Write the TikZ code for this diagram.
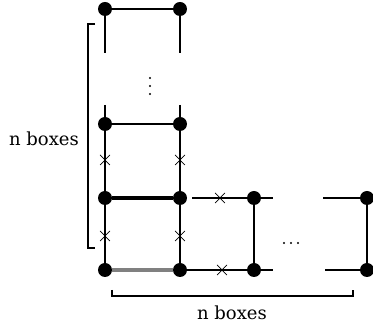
\documentclass[tikz,border=0pt]{standalone}
\usepackage{fontspec}
\setmainfont{DejaVu Serif}
\begin{document}
\begin{tikzpicture}[x=1pt,y=-1pt,
  dot/.style={circle,fill=black,inner sep=0pt,minimum size=14pt},
  edge/.style={line width=1.5pt},
  thickedge/.style={line width=4.5pt},
  grayedge/.style={line width=4.5pt,color=gray},
  cross/.style={line width=0.7pt},
  bracket/.style={line width=1.2pt},
  lab/.style={font=\fontsize{18}{20}\selectfont,inner sep=0pt}]
\useasboundingbox (0,0) rectangle (373,328);
% dots
\node[dot] (a1) at (105,9) {};
\node[dot] (a2) at (180,9) {};
\node[dot] (b1) at (105,124) {};
\node[dot] (b2) at (180,124) {};
\node[dot] (c1) at (105,198) {};
\node[dot] (c2) at (180,198) {};
\node[dot] (d1) at (105,270) {};
\node[dot] (d2) at (180,270) {};
\node[dot] (e1) at (254,198) {};
\node[dot] (e2) at (254,270) {};
\node[dot] (f1) at (367,198) {};
\node[dot] (f2) at (367,270) {};
% free ends
\coordinate (as1) at (105,53);
\coordinate (as2) at (180,53);
\coordinate (bs1) at (105,105);
\coordinate (bs2) at (180,105);
\coordinate (cs0) at (192,198);
\coordinate (cs1) at (273,198);
\coordinate (ds1) at (273,270);
\coordinate (cs2) at (323,198);
\coordinate (ds2) at (325,270);
% lines
\draw[edge] (a1) -- (a2);
\draw[edge] (a1) -- (as1);
\draw[edge] (a2) -- (as2);
\draw[edge] (bs1) -- (b1);
\draw[edge] (bs2) -- (b2);
\draw[edge] (b1) -- (b2);
\draw[edge] (b1) -- (c1);
\draw[edge] (b2) -- (c2);
\draw[edge] (c1) -- (d1);
\draw[edge] (c2) -- (d2);
\draw[thickedge] (c1) -- (c2);
\draw[grayedge] (d1) -- (d2);
\draw[edge] (cs0) -- (cs1);
\draw[edge] (d2) -- (ds1);
\draw[edge] (e1) -- (e2);
\draw[edge] (cs2) -- (f1);
\draw[edge] (ds2) -- (f2);
\draw[edge] (f1) -- (f2);
% crosses
\foreach \p in {(105,160),(180,160),(105,236),(180,236),(220,198),(222,270)}{
  \draw[cross] \p ++(-5,-5) .. controls +(3.5,3) and +(-3.5,-3) .. ++(10,10);
  \draw[cross] \p ++(5,-5) .. controls +(-3.5,3) and +(3.5,-3) .. ++(-10,10);
}
% vertical ellipsis
\foreach \y in {78,86,94} \fill (150,\y) circle (1.1);
% horizontal ellipsis
\foreach \x in {284,291,298} \fill (\x,243) circle (1.1);
% brackets
\draw[bracket] (95,24) -- (88,24) -- (88,248) -- (95,248);
\draw[bracket] (112,290) -- (112,296) -- (353,296) -- (353,290);
\node[lab] (lt) at (44,139) {n boxes};
\node[lab] (bt) at (232,313) {n boxes};
\end{tikzpicture}
\end{document}
